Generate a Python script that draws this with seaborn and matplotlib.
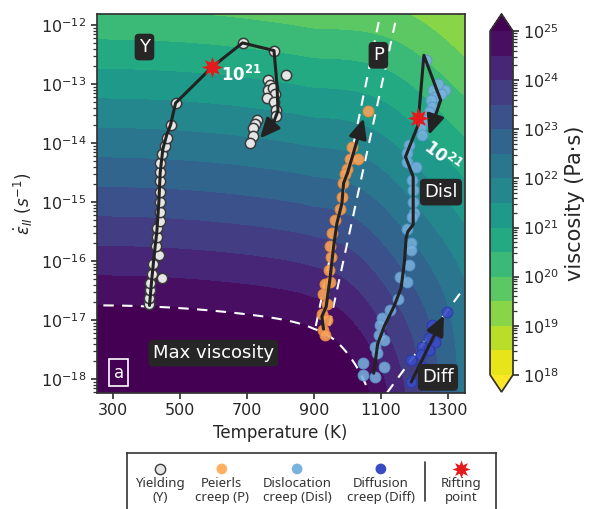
import numpy as np
import matplotlib.pyplot as plt
import matplotlib.colors as mcolors
import matplotlib.ticker as mticker
import seaborn as sns

# ── Setup ────────────────────────────────────────────────────────────────────
sns.set_theme(style="ticks")
plt.rcParams["font.family"] = ["DejaVu Sans"]
plt.rcParams.update({
    "axes.edgecolor": "#333333",
    "xtick.major.size": 4, "ytick.major.size": 4,
})

# ── Data (temperature in K, strain rate as log10 s^-1) ───────────────────────
# yielding (Y)
y_temp = [408, 408, 410, 410, 415, 418, 436, 428, 430, 430, 438, 438, 438, 438,
          438, 438, 440, 446, 453, 461, 471, 486, 686, 780, 816, 763, 768, 762,
          778, 782, 760, 780, 785, 786, 728, 723, 718, 716, 708, 446]
y_rate = [-16.72, -16.63, -16.49, -16.37, -16.21, -16.05, -15.90, -15.75, -15.59,
          -15.44, -15.32, -15.16, -15.00, -14.83, -14.64, -14.49, -14.33, -14.19,
          -14.05, -13.91, -13.69, -13.32, -12.30, -12.43, -12.84, -12.93, -13.02,
          -13.10, -13.07, -13.16, -13.24, -13.30, -13.44, -13.54, -13.60, -13.67,
          -13.75, -13.88, -13.99, -16.28]
y_path_temp = [408, 415, 422, 430, 436, 440, 448, 460, 471, 486, 595, 686, 780, 789, 792, 778]
y_path_rate = [-16.75, -16.30, -15.90, -15.50, -15.00, -14.50, -14.10, -13.85, -13.69,
               -13.32, -12.71, -12.30, -12.43, -13.00, -13.45, -13.66]
y_arrow_tip = (738, -13.92)

# Peierls creep (P)
p_temp = [1061, 1013, 1006, 1030, 998, 993, 986, 983, 978, 963, 953, 946, 950, 943,
          933, 948, 928, 938, 923, 938, 928, 933]
p_rate = [-13.45, -14.07, -14.26, -14.26, -14.43, -14.53, -14.68, -14.91, -15.11,
          -15.31, -15.53, -15.75, -15.93, -16.15, -16.38, -16.35, -16.55, -16.72,
          -16.89, -17.00, -17.17, -17.25]
p_path_temp = [928, 923, 936, 948, 958, 968, 983, 988, 1000]
p_path_rate = [-17.15, -16.94, -16.77, -16.27, -15.76, -15.36, -15.02, -14.68, -14.50]
p_arrow_tip = (1048, -13.58)

# dislocation creep (Disl)
d_temp = [1233, 1256, 1291, 1278, 1270, 1262, 1248, 1253, 1243, 1233, 1218, 1223,
          1183, 1178, 1178, 1203, 1193, 1196, 1196, 1198, 1193, 1178, 1188, 1190,
          1183, 1158, 1178, 1150, 1126, 1103, 1098, 1093, 1108, 1083, 1088, 1108,
          1083, 1046, 1046]
d_rate = [-12.59, -13.10, -13.09, -13.16, -13.00, -13.22, -13.27, -13.38, -13.47,
          -13.61, -13.72, -13.86, -14.03, -14.17, -14.32, -14.40, -14.63, -14.80,
          -14.99, -15.19, -15.25, -15.45, -15.70, -15.81, -16.07, -16.27, -16.35,
          -16.65, -16.83, -16.97, -17.08, -17.25, -17.34, -17.45, -17.56, -17.79,
          -17.96, -17.73, -17.93]
d_path_temp = [1078, 1090, 1110, 1140, 1160, 1170, 1175, 1180, 1196, 1196, 1173, 1210, 1228, 1278]
d_path_rate = [-17.90, -17.40, -17.10, -16.75, -16.45, -16.00, -15.60, -15.50, -15.38,
               -14.57, -14.23, -13.70, -12.51, -13.27]
d_arrow_tip = (1243, -13.86)

# diffusion creep (Diff)
f_temp = [1296, 1253, 1266, 1260, 1243, 1223, 1243, 1218, 1188, 1223, 1188]
f_rate = [-16.86, -17.08, -17.23, -17.37, -17.31, -17.45, -17.51, -17.59, -17.68,
          -17.79, -18.05]
f_arrow_start = (1190, -18.05)
f_arrow_tip = (1288, -16.92)

# rifting points
rift_temp = [595, 1210]
rift_rate = [-12.71, -13.58]

# mechanism boundaries
peierls_left_temp, peierls_left_rate = [905, 1098], [-17.10, -11.81]
peierls_right_temp, peierls_right_rate = [945, 1148], [-17.10, -11.81]
diff_bound_temp, diff_bound_rate = [1118, 1350], [-18.23, -16.44]

# viscosity field: yielding, dislocation and diffusion creep, capped at max
yield_s0, yield_s1, yield_tcap = 8.25, 7.5e-7, 900
disl_c, disl_m, disl_k = 4.73, -0.714, 7910.0
diff_c, diff_k = 10.33, 16200.0
eta_max = 1e25
visc_levels = 10 ** np.arange(18, 25.01, 0.5)

T_grid = np.linspace(250, 1350, 400)
r_grid = np.linspace(-18.4, -11.6, 400)
TT, RR = np.meshgrid(T_grid, r_grid)
log_yield = yield_s0 - yield_s1 * (np.minimum(TT, yield_tcap) - 250) ** 2 - RR
log_disl = disl_c + disl_m * RR + disl_k / TT
log_diff = diff_c + diff_k / TT + 0 * RR
eta = 1.0 / (10 ** -log_yield + 10 ** -log_disl + 10 ** -log_diff)

# minor tick positions for the log axes (2..9 x each decade)
minor_subs = np.arange(2, 10)
rate_minor = np.concatenate([minor_subs * 10.0 ** d for d in range(-19, -11)])
visc_minor = np.concatenate([minor_subs * 10.0 ** d for d in range(17, 26)])

# ── Figure ───────────────────────────────────────────────────────────────────
fig = plt.figure(figsize=(5.89, 5.09), dpi=100)
ax = fig.add_axes([0.164, 0.2285, 0.625, 0.744])
cax = fig.add_axes([0.832, 0.2299, 0.039, 0.7426])

ax.set_yscale("log")
cf = ax.contourf(TT, 10 ** RR, eta, levels=visc_levels, cmap="viridis_r",
                 norm=mcolors.LogNorm(vmin=1e18, vmax=1e25), extend="both")
ax.contour(TT, 10 ** RR, eta, levels=[eta_max], colors="white",
           linewidths=1.5, linestyles=[(0, (5, 4))])

dash = dict(color="white", lw=1.5, ls=(0, (5, 4)), zorder=2)
for bt, br in [(peierls_left_temp, peierls_left_rate),
               (peierls_right_temp, peierls_right_rate),
               (diff_bound_temp, diff_bound_rate)]:
    ax.plot(bt, 10 ** np.array(br), **dash)

line_col = "#222222"
sns.scatterplot(x=y_temp, y=10 ** np.array(y_rate), ax=ax, s=55, color="#e6e6e6",
                edgecolor="#3a3a3a", linewidth=1.1, zorder=3)
sns.scatterplot(x=p_temp, y=10 ** np.array(p_rate), ax=ax, s=60, color="#f7a25a",
                edgecolor="#e8893a", linewidth=0.8, alpha=0.9, zorder=3)
sns.scatterplot(x=d_temp, y=10 ** np.array(d_rate), ax=ax, s=60, color="#7ab2de",
                edgecolor="#5b98cc", linewidth=0.8, alpha=0.85, zorder=3)
sns.scatterplot(x=f_temp, y=10 ** np.array(f_rate), ax=ax, s=60, color="#3a4bc4",
                edgecolor="#2a3aa8", linewidth=0.8, alpha=0.9, zorder=3)

arrow_kw = dict(arrowstyle="-|>,head_length=1.0,head_width=0.45", color=line_col,
                lw=2.2, shrinkA=0, shrinkB=0)
for pt, pr, tip in [(y_path_temp, y_path_rate, y_arrow_tip),
                    (p_path_temp, p_path_rate, p_arrow_tip),
                    (d_path_temp, d_path_rate, d_arrow_tip)]:
    sns.lineplot(x=pt, y=10 ** np.array(pr), ax=ax, sort=False, estimator=None,
                 color=line_col, lw=2.2, zorder=4)
    ax.annotate("", xy=(tip[0], 10 ** tip[1]), xytext=(pt[-1], 10 ** pr[-1]),
                arrowprops=arrow_kw, zorder=4)
ax.annotate("", xy=(f_arrow_tip[0], 10 ** f_arrow_tip[1]),
            xytext=(f_arrow_start[0], 10 ** f_arrow_start[1]),
            arrowprops=arrow_kw, zorder=4)

ax.scatter(rift_temp, 10 ** np.array(rift_rate), marker=(8, 1, 0), s=230,
           color="#e41a1c", linewidth=0, zorder=5)

box = dict(boxstyle="round,pad=0.24", fc="#262626", ec="none")
for lbl, t, r in [("Y", 393, -12.37), ("P", 1092, -12.51),
                  ("Disl", 1279, -14.83), ("Diff", 1270, -17.97),
                  ("Max viscosity", 599, -17.56)]:
    ax.text(t, 10 ** r, lbl, ha="center", va="center", color="white",
            fontsize=13, bbox=box, zorder=6)

ax.text(683, 10 ** -12.85, r"$\mathbf{10^{21}}$", color="white", fontsize=12,
        ha="center", va="center", zorder=6)
ax.text(1283, 10 ** -14.23, r"$\mathbf{10^{21}}$", color="white", fontsize=12,
        ha="center", va="center", rotation=-37, zorder=6)

ax.text(0.06, 0.053, "a", transform=ax.transAxes, color="white", fontsize=12,
        ha="center", va="center",
        bbox=dict(boxstyle="square,pad=0.25", fc="none", ec="white", lw=1.2))

ax.set_xlim(250, 1350)
ax.set_ylim(10 ** -18.23, 10 ** -11.81)
ax.set_xticks(range(300, 1301, 200))
ax.set_yticks(rate_minor, minor=True)
ax.yaxis.set_minor_formatter(mticker.NullFormatter())
ax.tick_params(labelsize=11.5, color="#333333")
ax.tick_params(axis="y", which="minor", length=3, width=0.9, left=True,
               color="#333333")
ax.set_ylim(10 ** -18.23, 10 ** -11.81)
ax.set_xlabel("Temperature (K)", fontsize=12)
ax.set_ylabel(r"$\dot{\varepsilon}_{II}\ (s^{-1})$", fontsize=12)

cb = fig.colorbar(cf, cax=cax)
cb.set_label("viscosity (Pa·s)", fontsize=15)
cb.ax.tick_params(labelsize=11.5, color="#333333")
cb.ax.yaxis.set_minor_locator(mticker.FixedLocator(visc_minor))
cb.ax.yaxis.set_minor_formatter(mticker.NullFormatter())
cb.ax.tick_params(which="minor", length=3, width=0.9, right=True, color="#333333")

# ── Legend panel ─────────────────────────────────────────────────────────────
lax = fig.add_axes([127 / 589, -0.01, 369 / 589, 61 / 509])
lax.set_xlim(0, 1)
lax.set_ylim(0, 1)
lax.set_xticks([])
lax.set_yticks([])
for s in lax.spines.values():
    s.set_color("#333333")
    s.set_linewidth(1.2)

leg_items = [
    ("Yielding\n(Y)", dict(marker="o", s=55, color="#e6e6e6", edgecolor="#3a3a3a", linewidth=1.0)),
    ("Peierls\ncreep (P)", dict(marker="o", s=60, color="#fdb066", edgecolor="none")),
    ("Dislocation\ncreep (Disl)", dict(marker="o", s=60, color="#7ab2de", edgecolor="none")),
    ("Diffusion\ncreep (Diff)", dict(marker="o", s=60, color="#3a4bc4", edgecolor="none")),
    ("Rifting\npoint", dict(marker=(8, 1, 0), s=170, color="#e41a1c", linewidth=0)),
]
leg_x = [0.089, 0.257, 0.461, 0.688, 0.905]
for xpos, (lbl, kw) in zip(leg_x, leg_items):
    lax.scatter([xpos], [0.74], **kw)
    lax.text(xpos, 0.39, lbl, ha="center", va="center", fontsize=9.5,
             color="#333333", linespacing=1.05, family=["Noto Sans", "DejaVu Sans"])
lax.plot([0.808, 0.808], [0.22, 0.85], color="#333333", lw=1.2)

plt.savefig("out.png", dpi=100)
plt.close()
